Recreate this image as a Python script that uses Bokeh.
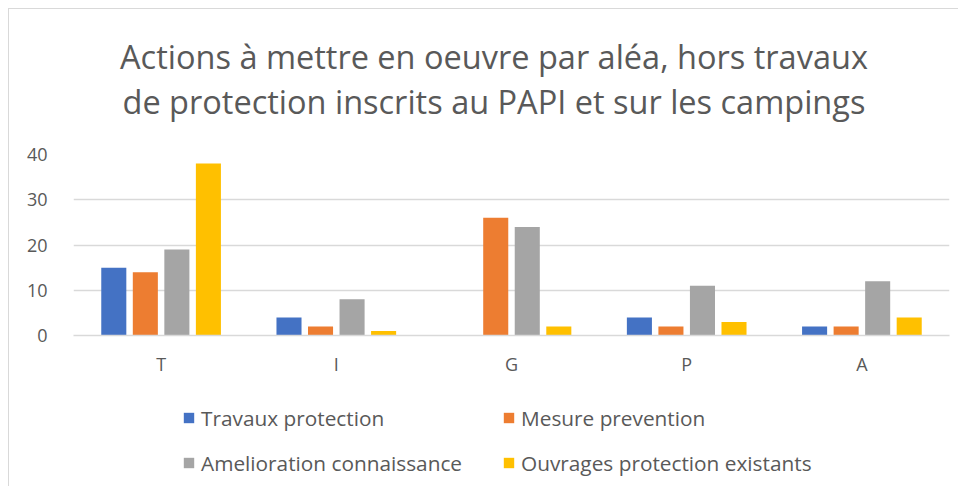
from bokeh.plotting import figure
from bokeh.models import FactorRange, Range1d, Legend, LegendItem, ColumnDataSource, FixedTicker, Spacer, Label
from bokeh.layouts import column, row
from bokeh.transform import dodge
from bokeh.embed import file_html
from bokeh.resources import INLINE

categories = ["T", "I", "G", "P", "A"]
series_names = ["Travaux protection", "Mesure prevention",
                "Amelioration connaissance", "Ouvrages protection existants"]
travaux = [15, 4, 0, 4, 2]
mesure = [14, 2, 26, 2, 2]
amelioration = [19, 8, 24, 11, 12]
ouvrages = [38, 1, 2, 3, 4]
y_ticks = [0, 10, 20, 30, 40]
colors = ["#4472C4", "#ED7D31", "#A5A5A5", "#FFC000"]
title_text = ("Actions à mettre en oeuvre par aléa, hors travaux\n"
              "de protection inscrits au PAPI et sur les campings")

FONT = "Open Sans"
TXT = "#595959"
BORDER = "1px solid #d9d9d9"
FW = 875  # frame width in px


def blank(height, styles):
    f = figure(frame_width=FW, height=height, output_backend="svg", toolbar_location=None,
               x_range=Range1d(0, FW), y_range=Range1d(0, height),
               x_axis_type=None, y_axis_type=None,
               min_border_left=64, min_border_right=10, min_border_top=0, min_border_bottom=0,
               background_fill_color="white", border_fill_color="white", styles=styles)
    f.outline_line_color = None
    f.grid.visible = False
    return f


# ---- title panel ----
pt = blank(125, {"border-left": BORDER, "border-top": BORDER})
pt.add_layout(Label(x=420, y=56, text=title_text, text_align="center", text_baseline="middle",
                    text_font=FONT, text_font_size="32.5px", text_color=TXT,
                    text_line_height=1.0))

# ---- chart ----
src = ColumnDataSource(dict(cat=categories, s0=travaux, s1=mesure, s2=amelioration, s3=ouvrages))

p = figure(x_range=FactorRange(*categories, range_padding=0), y_range=Range1d(0, 40),
           frame_width=FW, frame_height=181, output_backend="svg", toolbar_location=None,
           min_border_left=64, min_border_right=10, min_border_top=21, min_border_bottom=40,
           background_fill_color="white", border_fill_color="white",
           styles={"border-left": BORDER})
p.outline_line_color = None
p.title.visible = False

offsets = [-0.27, -0.09, 0.09, 0.27]
for i, col in enumerate(colors):
    p.vbar(x=dodge("cat", offsets[i], range=p.x_range), top="s%d" % i, width=0.143,
           source=src, fill_color=col, line_color=None)

p.xgrid.grid_line_color = None
p.ygrid.grid_line_color = "#d9d9d9"
p.ygrid.grid_line_width = 1.3
p.yaxis.ticker = FixedTicker(ticks=y_ticks)

p.yaxis.axis_line_color = None
p.yaxis.major_tick_line_color = None
p.yaxis.minor_tick_line_color = None
p.yaxis.major_label_text_font = FONT
p.yaxis.major_label_text_font_size = "18px"
p.yaxis.major_label_text_color = TXT
p.yaxis.major_label_standoff = 20

p.xaxis.axis_line_color = "#d9d9d9"
p.xaxis.axis_line_width = 1.3
p.xaxis.major_tick_line_color = None
p.xaxis.minor_tick_line_color = None
p.xaxis.major_label_text_font = FONT
p.xaxis.major_label_text_font_size = "18px"
p.xaxis.major_label_text_color = TXT
p.xaxis.major_label_standoff = 10

# ---- legend panel ----
pl = blank(108, {"border-left": BORDER})
items = []
for name, col in zip(series_names, colors):
    r = pl.vbar(x=[0], top=[0], width=0, fill_color=col, line_color=None)
    items.append(LegendItem(label=name, renderers=[r]))

legend = Legend(items=items, orientation="horizontal", ncols=2, location=(109, 6),
                label_text_font=FONT, label_text_font_size="20.8px", label_text_color=TXT,
                glyph_width=13, glyph_height=13, label_standoff=6, label_width=291,
                label_height=35, spacing=10, padding=0, margin=0,
                border_line_color=None, background_fill_alpha=0)
pl.add_layout(legend, "center")

layout = column(Spacer(height=8),
                row(Spacer(width=8), column(pt, p, pl, spacing=0), spacing=0),
                spacing=0)

open("out.html", "w").write(file_html(layout, INLINE))
